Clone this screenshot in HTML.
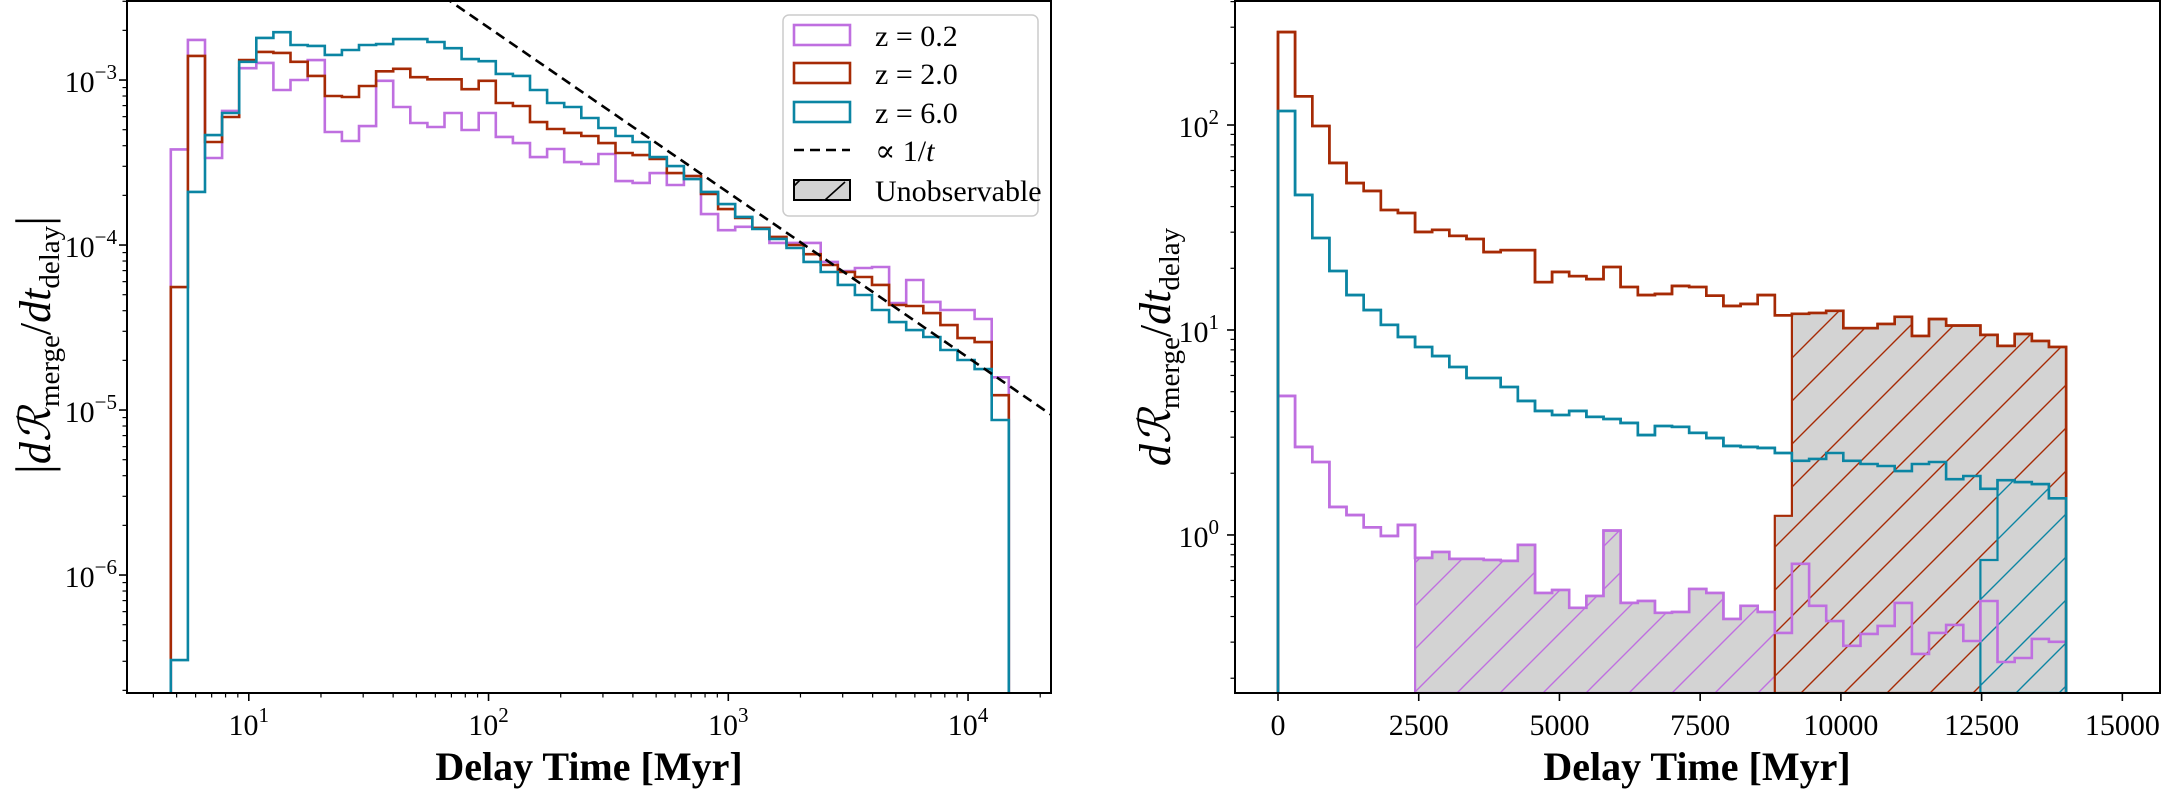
<!DOCTYPE html>
<html><head><meta charset="utf-8"><title>Delay time distributions</title>
<style>
html,body{margin:0;padding:0;background:#fff;}
svg{display:block;font-family:"Liberation Serif","DejaVu Serif",serif;}
</style></head>
<body>
<svg id="fig" width="2168" height="789" viewBox="0 0 2168 789">
<defs>
<clipPath id="clipL"><rect x="127" y="1" width="924" height="692"/></clipPath>
<clipPath id="clipR"><rect x="1235" y="1" width="925" height="692"/></clipPath>
<pattern id="hatchP" patternUnits="userSpaceOnUse" width="43" height="43"><path d="M-5,48 L48,-5 M-5,5 L5,-5 M38,48 L48,38" stroke="#bf6fe0" stroke-width="1.4"/></pattern>
<pattern id="hatchR" patternUnits="userSpaceOnUse" width="43" height="43"><path d="M-5,48 L48,-5 M-5,5 L5,-5 M38,48 L48,38" stroke="#a62a05" stroke-width="1.4"/></pattern>
<pattern id="hatchB" patternUnits="userSpaceOnUse" width="43" height="43"><path d="M-5,48 L48,-5 M-5,5 L5,-5 M38,48 L48,38" stroke="#0b85a3" stroke-width="1.4"/></pattern>
</defs>
<g id="left-panel"></g>
<g id="right-panel"></g>
<g id="legend">
  <rect x="783" y="15" width="255" height="201" rx="6" fill="#fff" fill-opacity="0.8" stroke="#cccccc" stroke-width="1.5"/>
  <rect x="794" y="25" width="56" height="20" fill="none" stroke="#bf6fe0" stroke-width="2.6"/>
  <text x="875" y="46" font-size="30">z = 0.2</text>
  <rect x="794" y="63" width="56" height="20" fill="none" stroke="#a62a05" stroke-width="2.6"/>
  <text x="875" y="84" font-size="30">z = 2.0</text>
  <rect x="794" y="102" width="56" height="20" fill="none" stroke="#0b85a3" stroke-width="2.6"/>
  <text x="875" y="123" font-size="30">z = 6.0</text>
  <line x1="794" y1="150" x2="850" y2="150" stroke="#000" stroke-width="2.6" stroke-dasharray="10,6"/>
  <text x="875" y="161" font-size="30">∝ 1/<tspan font-style="italic">t</tspan></text>
  <rect x="794" y="180" width="56" height="20" fill="#d3d3d3" stroke="#000" stroke-width="2"/>
  <line x1="825" y1="200" x2="845" y2="182" stroke="#000" stroke-width="1.6"/>
  <line x1="794" y1="186" x2="800" y2="180" stroke="#000" stroke-width="1.6"/>
  <text x="875" y="201" font-size="30">Unobservable</text>
</g>
<text x="589" y="780" font-size="40" font-weight="bold" text-anchor="middle">Delay Time [Myr]</text>
<text x="1697" y="780" font-size="40" font-weight="bold" text-anchor="middle">Delay Time [Myr]</text>
<text transform="translate(50,345) rotate(-90)" font-size="44" text-anchor="middle"><tspan font-size="50">|</tspan><tspan font-style="italic">d</tspan><tspan font-style="italic">ℛ</tspan><tspan font-size="29" dy="9">merge</tspan><tspan dy="-9">/</tspan><tspan font-style="italic">dt</tspan><tspan font-size="29" dy="9">delay</tspan><tspan dy="-9" font-size="50">|</tspan></text>
<text transform="translate(1170,347) rotate(-90)" font-size="44" text-anchor="middle"><tspan font-style="italic">d</tspan><tspan font-style="italic">ℛ</tspan><tspan font-size="29" dy="9">merge</tspan><tspan dy="-9">/</tspan><tspan font-style="italic">dt</tspan><tspan font-size="29" dy="9">delay</tspan></text>
</svg>
<script>
// ---------- data: left panel (log-spaced bins) ----------
const leftEdgeRange = [4.73, 14790];
const leftBinCount = 49;
const purpleLeft = [3.8e-4,1.75e-3,3.37e-4,6.5e-4,1.18e-3,1.27e-3,8.7e-4,1.0e-3,1.32e-3,4.84e-4,4.27e-4,5.26e-4,9.9e-4,6.86e-4,5.49e-4,5.19e-4,6.31e-4,4.98e-4,6.31e-4,4.52e-4,4.15e-4,3.41e-4,3.82e-4,3.18e-4,3.10e-4,3.56e-4,2.44e-4,2.38e-4,2.73e-4,2.31e-4,2.62e-4,1.54e-4,1.23e-4,1.29e-4,1.27e-4,1.03e-4,1.03e-4,1.03e-4,7.9e-5,6.96e-5,7.26e-5,7.36e-5,4.45e-5,6.14e-5,4.52e-5,4.04e-5,4.04e-5,3.56e-5,1.58e-5];
const redLeft = [5.56e-5,1.40e-3,4.21e-4,5.97e-4,1.32e-3,1.48e-3,1.46e-3,1.29e-3,1.06e-3,8.0e-4,7.89e-4,9.2e-4,1.13e-3,1.17e-3,1.04e-3,1.01e-3,1.01e-3,8.8e-4,9.9e-4,7.26e-4,6.96e-4,5.56e-4,5.05e-4,4.78e-4,4.58e-4,4.15e-4,3.61e-4,3.51e-4,3.32e-4,2.73e-4,2.62e-4,2.04e-4,1.65e-4,1.46e-4,1.27e-4,1.12e-4,1.0e-4,8.8e-5,7.57e-5,6.86e-5,6.4e-5,5.73e-5,4.33e-5,4.27e-5,3.87e-5,3.27e-5,2.73e-5,2.58e-5,1.23e-5];
const blueLeft = [3.05e-7,2.10e-4,4.64e-4,6.31e-4,1.29e-3,1.80e-3,1.95e-3,1.63e-3,1.61e-3,1.42e-3,1.52e-3,1.63e-3,1.65e-3,1.77e-3,1.77e-3,1.70e-3,1.56e-3,1.34e-3,1.30e-3,1.09e-3,1.06e-3,8.7e-4,7.26e-4,6.86e-4,5.89e-4,5.12e-4,4.58e-4,4.21e-4,3.41e-4,3.01e-4,2.51e-4,2.10e-4,1.77e-4,1.48e-4,1.25e-4,1.09e-4,9.6e-5,7.9e-5,6.86e-5,5.73e-5,4.98e-5,4.04e-5,3.41e-5,3.05e-5,2.77e-5,2.31e-5,2.01e-5,1.77e-5,8.7e-6];
const invTNorm = 0.208;
const leftXTicks = [10, 100, 1000, 10000];
const leftXTickExp = ["1", "2", "3", "4"];
const leftYTicks = [1e-3, 1e-4, 1e-5, 1e-6];
const leftYTickExp = ["−3", "−4", "−5", "−6"];

// ---------- data: right panel (linear bins) ----------
const rightEdgeRange = [0, 14000];
const rightBinCount = 46;
const purpleRight = [4.77,2.69,2.27,1.37,1.25,1.09,0.99,1.12,0.773,0.826,0.764,0.764,0.755,0.747,0.894,0.521,0.539,0.441,0.504,1.05,0.466,0.476,0.417,0.421,0.545,0.521,0.389,0.451,0.421,0.333,0.723,0.451,0.380,0.288,0.329,0.360,0.466,0.263,0.333,0.364,0.304,0.476,0.240,0.251,0.311,0.301];
const redRight = [284,138,98.9,65.3,52.1,47.7,38.5,37.2,30.1,30.8,28.8,27.8,24.0,24.5,24.5,17.1,19.2,18.3,17.7,20.3,16.2,14.8,15.0,16.4,16.2,14.7,13.1,13.4,14.8,11.8,12.0,12.1,12.4,10.2,10.2,10.7,11.6,9.35,11.3,10.5,10.5,9.46,8.36,9.56,8.84,8.26];
const blueRight = [117,45.6,28.1,19.4,14.8,12.5,10.6,9.25,8.26,7.46,6.60,5.83,5.83,5.27,4.51,4.03,3.85,4.03,3.77,3.68,3.52,3.07,3.40,3.37,3.15,2.97,2.72,2.69,2.66,2.51,2.30,2.35,2.51,2.30,2.22,2.17,2.05,2.22,2.27,1.87,1.94,1.68,1.85,1.81,1.77,1.51];
const unobsPurpleStart = 8;
const unobsPurpleFirst = 0.773;
const unobsRedStart = 29;
const unobsRedFirst = 1.24;
const unobsBlueStart = 41;
const unobsBlueFirst = 0.755;
const rightXTicks = [0, 2500, 5000, 7500, 10000, 12500, 15000];
const rightXTickLabels = ["0", "2500", "5000", "7500", "10000", "12500", "15000"];
const rightYTicks = [1, 10, 100];
const rightYTickExp = ["0", "1", "2"];

// ---------- axes ----------
const svg = document.getElementById('fig');
const NS = svg.namespaceURI;
const L = {x0:127, x1:1051, y0:693, y1:1, lxmin:0.492, lxmax:4.346, lymin:-6.715, lymax:-2.521};
const R = {x0:1235, x1:2160, y0:693, y1:1, xmin:-764, xmax:15669, lymin:-0.771, lymax:2.605};
function lx(t){ return L.x0 + (Math.log10(t)-L.lxmin)/(L.lxmax-L.lxmin)*(L.x1-L.x0); }
function ly(v){ return L.y0 - (Math.log10(v)-L.lymin)/(L.lymax-L.lymin)*(L.y0-L.y1); }
function rx(t){ return R.x0 + (t-R.xmin)/(R.xmax-R.xmin)*(R.x1-R.x0); }
function ry(v){ return R.y0 - (Math.log10(v)-R.lymin)/(R.lymax-R.lymin)*(R.y0-R.y1); }

function mk(tag, attrs, parent){
  const e = document.createElementNS(NS, tag);
  for (const k in attrs) e.setAttribute(k, attrs[k]);
  parent.appendChild(e);
  return e;
}
const gL = document.getElementById('left-panel');
const gR = document.getElementById('right-panel');

const leftEdges = [];
for (let i=0;i<=leftBinCount;i++){
  const a=Math.log10(leftEdgeRange[0]), b=Math.log10(leftEdgeRange[1]);
  leftEdges.push(Math.pow(10, a+(b-a)*i/leftBinCount));
}
const rightEdges = [];
for (let i=0;i<=rightBinCount;i++) rightEdges.push(rightEdgeRange[0]+(rightEdgeRange[1]-rightEdgeRange[0])*i/rightBinCount);

function stepPath(edges, vals, xf, yf, base, start){
  start = start||0;
  let d = 'M'+xf(edges[start]).toFixed(1)+','+base;
  for (let i=start;i<vals.length;i++){
    const y = Math.min(base+5, yf(vals[i])).toFixed(1);
    d += ' L'+xf(edges[i]).toFixed(1)+','+y+' L'+xf(edges[i+1]).toFixed(1)+','+y;
  }
  d += ' L'+xf(edges[vals.length]).toFixed(1)+','+base;
  return d;
}

// ---------- left panel ----------
const lData = mk('g', {'clip-path':'url(#clipL)'}, gL);


const lineSeries = [[purpleLeft,'#bf6fe0','series-z02-left'],[redLeft,'#a62a05','series-z20-left'],[blueLeft,'#0b85a3','series-z60-left']];
lineSeries.forEach(s=>{
  const p = mk('path', {d:stepPath(leftEdges, s[0], lx, ly, L.y0), fill:'none', stroke:s[1], 'stroke-width':2.6, 'stroke-linejoin':'miter'}, lData);
  
  
});
// 1/t reference line
{
  const tA = Math.pow(10, L.lxmin), tB = Math.pow(10, L.lxmax);
  const p = mk('line', {x1:lx(tA), y1:ly(invTNorm/tA), x2:lx(tB), y2:ly(invTNorm/tB), stroke:'#000', 'stroke-width':2.6, 'stroke-dasharray':'10,6'}, lData);
  
  
}
// left spines
{
  const r = mk('rect', {x:L.x0, y:L.y1, width:L.x1-L.x0, height:L.y0-L.y1, fill:'none', stroke:'#000', 'stroke-width':2}, gL);
  
  
}
// left x ticks
for (let e=0;e<=4;e++){
  for (let k=1;k<10;k++){
    const t = k*Math.pow(10,e);
    const lg = Math.log10(t);
    if (lg<L.lxmin || lg>L.lxmax) continue;
    const x = lx(t);
    const tk = mk('line', {x1:x, y1:L.y0, x2:x, y2:L.y0+(k===1?8:4.5), stroke:'#000', 'stroke-width':k===1?1.6:1.2}, gL);
    
    
  }
}
leftXTicks.forEach((t,i)=>{
  const tx = mk('text', {x:lx(t), y:735, 'font-size':30, 'text-anchor':'middle'}, gL);
  
  
  tx.textContent = '10';
  const sp = mk('tspan', {'font-size':21, dy:-13}, tx);
  sp.textContent = leftXTickExp[i];
});
// left y ticks
for (let e=-7;e<=-2;e++){
  for (let k=1;k<10;k++){
    const v = k*Math.pow(10,e);
    const lg = Math.log10(v);
    if (lg<L.lymin || lg>L.lymax) continue;
    const y = ly(v);
    const tk = mk('line', {x1:L.x0, y1:y, x2:L.x0-(k===1?8:4.5), y2:y, stroke:'#000', 'stroke-width':k===1?1.6:1.2}, gL);
    
    
  }
}
leftYTicks.forEach((v,i)=>{
  const tx = mk('text', {x:117, y:ly(v)+12, 'font-size':30, 'text-anchor':'end'}, gL);
  
  
  tx.textContent = '10';
  const sp = mk('tspan', {'font-size':21, dy:-13}, tx);
  sp.textContent = leftYTickExp[i];
});

// ---------- right panel ----------
const rData = mk('g', {'clip-path':'url(#clipR)'}, gR);


const rightSeries = [[purpleRight,'#bf6fe0','series-z02-right'],[redRight,'#a62a05','series-z20-right'],[blueRight,'#0b85a3','series-z60-right']];
rightSeries.forEach(s=>{
  const p = mk('path', {d:stepPath(rightEdges, s[0], rx, ry, R.y0), fill:'none', stroke:s[1], 'stroke-width':2.6}, rData);
  
  
});
const unobs = [[purpleRight,unobsPurpleStart,unobsPurpleFirst,'#bf6fe0','hatchP','unobservable-z02'],[redRight,unobsRedStart,unobsRedFirst,'#a62a05','hatchR','unobservable-z20'],[blueRight,unobsBlueStart,unobsBlueFirst,'#0b85a3','hatchB','unobservable-z60']];
unobs.forEach(u=>{
  const vals = u[0].slice();
  vals[u[1]] = u[2];
  const d = stepPath(rightEdges, vals, rx, ry, R.y0, u[1]) + ' Z';
  const g = mk('path', {d:d, fill:'#d3d3d3', stroke:'none'}, rData);
  
  
  const h = mk('path', {d:d, fill:'url(#'+u[4]+')', stroke:u[3], 'stroke-width':2.2}, rData);
  
  
});
// redraw series on top (purple over others)
rightSeries.forEach(s=>{
  const p = mk('path', {d:stepPath(rightEdges, s[0], rx, ry, R.y0), fill:'none', stroke:s[1], 'stroke-width':2.6}, rData);
  
  
});
{
  const r = mk('rect', {x:R.x0, y:R.y1, width:R.x1-R.x0, height:R.y0-R.y1, fill:'none', stroke:'#000', 'stroke-width':2}, gR);
  
  
}
rightXTicks.forEach((t,i)=>{
  const x = rx(t);
  const tk = mk('line', {x1:x, y1:R.y0, x2:x, y2:R.y0+8, stroke:'#000', 'stroke-width':1.6}, gR);
  
  
  const tx = mk('text', {x:x, y:735, 'font-size':30, 'text-anchor':'middle'}, gR);
  
  
  tx.textContent = rightXTickLabels[i];
});
for (let e=-1;e<=2;e++){
  for (let k=1;k<10;k++){
    const v = k*Math.pow(10,e);
    const lg = Math.log10(v);
    if (lg<R.lymin || lg>R.lymax) continue;
    const y = ry(v);
    const tk = mk('line', {x1:R.x0, y1:y, x2:R.x0-(k===1?8:4.5), y2:y, stroke:'#000', 'stroke-width':k===1?1.6:1.2}, gR);
    
    
  }
}
rightYTicks.forEach((v,i)=>{
  const tx = mk('text', {x:1219, y:ry(v)+12, 'font-size':30, 'text-anchor':'end'}, gR);
  
  
  tx.textContent = '10';
  const sp = mk('tspan', {'font-size':21, dy:-13}, tx);
  sp.textContent = rightYTickExp[i];
});
svg.appendChild(document.getElementById('legend'));
</script>
</body></html>
